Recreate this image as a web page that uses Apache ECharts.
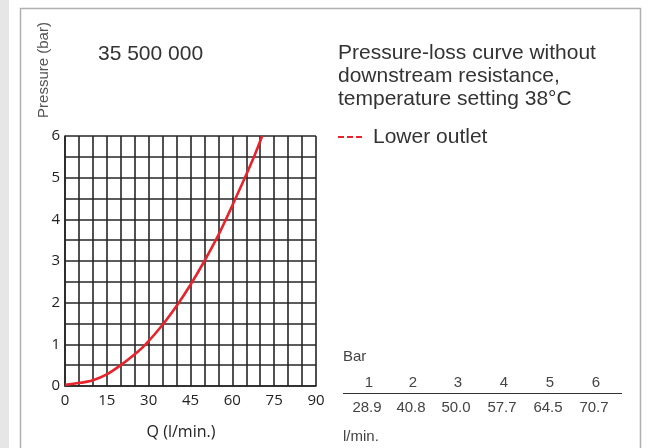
<!DOCTYPE html>
<html><head><meta charset="utf-8">
<script src="https://cdn.jsdelivr.net/npm/echarts@6/dist/echarts.min.js"></script>
<style>html,body{margin:0;padding:0;background:#fff}#c{width:651px;height:448px}</style>
</head><body><div id="c"></div>
<script>
// Data
const flowQ = [0, 5, 10, 15, 20, 25, 28.9, 35, 40.8, 45, 50, 55, 57.7, 61, 64.5, 68, 70.7];
const pressure = [0.03, 0.07, 0.14, 0.28, 0.5, 0.76, 1.0, 1.47, 2.0, 2.43, 3.0, 3.62, 4.0, 4.48, 5.0, 5.54, 6.0];
const xTickLabels = [0, 15, 30, 45, 60, 75, 90];
const yTickLabels = [0, 1, 2, 3, 4, 5, 6];
const tableBar = ['1', '2', '3', '4', '5', '6'];
const tableFlow = ['28.9', '40.8', '50.0', '57.7', '64.5', '70.7'];
const titleText = '35 500 000';
const noteLines = ['Pressure-loss curve without', 'downstream resistance,', 'temperature setting 38°C'];
const legendText = 'Lower outlet';

const chart = echarts.init(document.getElementById('c'));
const txtFont = '"Liberation Sans", Arial, sans-serif';
const axFont = '"Open Sans", "DejaVu Sans", sans-serif';
const gridC = '#262626';

const graphics = [
  {type:'rect', shape:{x:0,y:0,width:9,height:448}, style:{fill:'#e6e6e6'}, silent:true},
  {type:'polyline', shape:{points:[[20.5,448],[20.5,8.5],[640.5,8.5],[640.5,448]]}, style:{stroke:'#b0b0b0', lineWidth:1.5, fill:null}, silent:true},
  {type:'text', x:44, y:70, rotation:Math.PI/2, style:{text:'Pressure (bar)', font:'15px '+txtFont, fill:'#555', align:'center', verticalAlign:'middle'}},
  {type:'text', x:98, y:54, style:{text:titleText, font:'21px '+txtFont, fill:'#333', verticalAlign:'middle'}},
  {type:'text', x:181, y:432, style:{text:'Q (l/min.)', font:'16px '+axFont, fill:'#222', align:'center', verticalAlign:'middle'}},
  {type:'text', x:343, y:357, style:{text:'Bar', font:'15px '+txtFont, fill:'#444', verticalAlign:'middle'}},
  {type:'text', x:343, y:437, style:{text:'l/min.', font:'15px '+txtFont, fill:'#444', verticalAlign:'middle'}},
  {type:'line', shape:{x1:343, y1:393.5, x2:622, y2:393.5}, style:{stroke:'#333', lineWidth:1.2}},
  {type:'line', shape:{x1:338, y1:137, x2:363, y2:137}, style:{stroke:'#e8232b', lineWidth:2, lineDash:[6,3]}},
  {type:'text', x:373, y:137, style:{text:legendText, font:'21px '+txtFont, fill:'#333', verticalAlign:'middle'}}
];
noteLines.forEach((t,i)=>graphics.push({type:'text', x:338, y:53+i*23, style:{text:t, font:'21px '+txtFont, fill:'#333', verticalAlign:'middle'}}));
const colX = [369, 413, 458, 504, 550, 596];
tableBar.forEach((t,i)=>graphics.push({type:'text', x:colX[i], y:383, style:{text:t, font:'15px '+txtFont, fill:'#444', align:'center', verticalAlign:'middle'}}));
tableFlow.forEach((t,i)=>graphics.push({type:'text', x:colX[i]-2, y:408, style:{text:t, font:'15px '+txtFont, fill:'#444', align:'center', verticalAlign:'middle'}}));

chart.setOption({
  animation:false,
  grid:{left:65, right:335, top:136, bottom:62, containLabel:false},
  xAxis:{type:'value', min:0, max:90, interval:5,
    axisLine:{show:true, lineStyle:{color:gridC, width:1.6}},
    axisTick:{show:false},
    splitLine:{show:true, lineStyle:{color:gridC, width:1.6}},
    axisLabel:{margin:7, color:'#222', fontFamily:axFont, fontSize:15,
      formatter:v=>xTickLabels.indexOf(v)>=0 ? String(v) : ''}},
  yAxis:{type:'value', min:0, max:6, interval:0.5,
    axisLine:{show:true, lineStyle:{color:gridC, width:1.6}},
    axisTick:{show:false},
    splitLine:{show:true, lineStyle:{color:gridC, width:1.6}},
    axisLabel:{margin:5, color:'#222', fontFamily:axFont, fontSize:15,
      formatter:v=>yTickLabels.indexOf(v)>=0 ? String(v) : ''}},
  series:[{type:'line', data:flowQ.map((q,i)=>[q,pressure[i]]), smooth:0.3, showSymbol:false,
    lineStyle:{color:'#e8232b', width:2.6}, z:5}],
  graphic:graphics
});
</script></body></html>
